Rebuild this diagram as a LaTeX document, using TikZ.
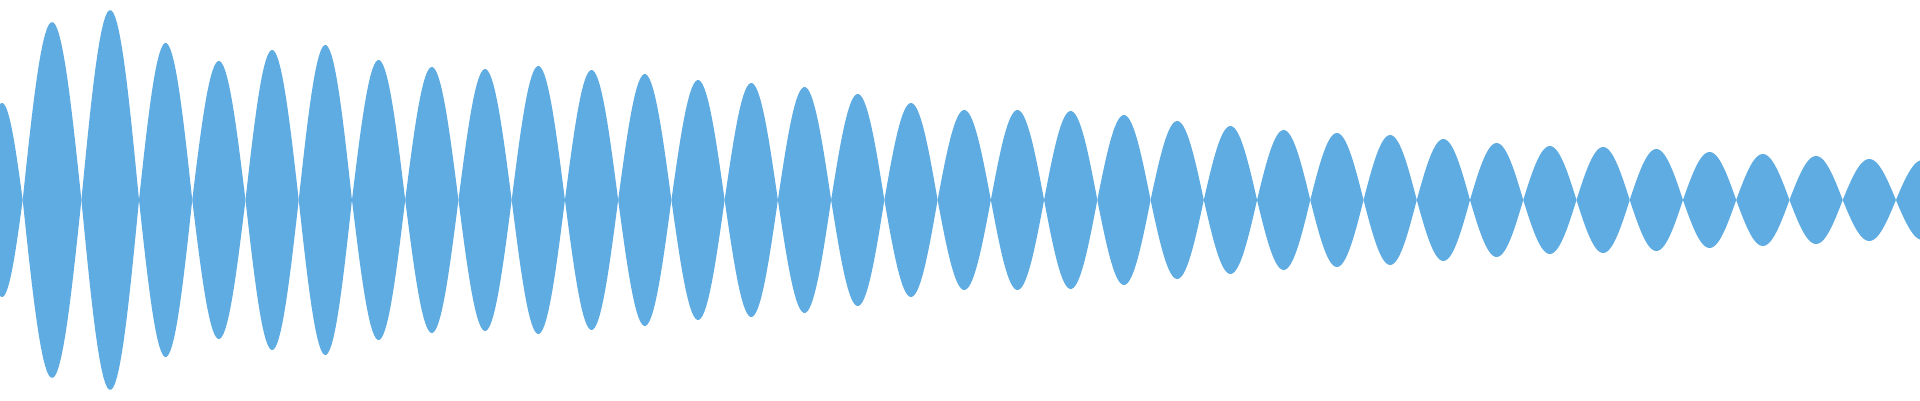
\documentclass[tikz,border=0pt]{standalone}
\definecolor{wave}{RGB}{94,172,225}
\tikzset{lobe/.style={fill=wave}}
\begin{document}
\begin{tikzpicture}[x=1pt,y=-1pt]
\useasboundingbox (0,0) rectangle (1920,400);
\clip (0,0) rectangle (1920,400);
\foreach \xa/\w/\A in {-18.7/41.4/97, 22.7/58.7/178, 81.4/57.6/190}{
  \fill[lobe] (\xa,200) -- plot[domain=0:180,samples=30] ({\xa+\w*\x/180},{200-\A*sin(\x)}) -- plot[domain=180:0,samples=30] ({\xa+\w*\x/180},{200+\A*sin(\x)}) -- cycle;
}
\foreach \A [count=\k from 0] in {157,139,150,155,140,133,131,134,130,126,120,117,113,106,97,90,90,89,85,79,74,70,67,65,61,57,54,53,51,48,46,44,41,40}{
  \pgfmathsetmacro{\xa}{139+53.24*\k}
  \fill[lobe] (\xa,200) -- plot[domain=0:180,samples=30] ({\xa+53.24*\x/180},{200-\A*sin(\x)}) -- plot[domain=180:0,samples=30] ({\xa+53.24*\x/180},{200+\A*sin(\x)}) -- cycle;
}
\end{tikzpicture}
\end{document}
